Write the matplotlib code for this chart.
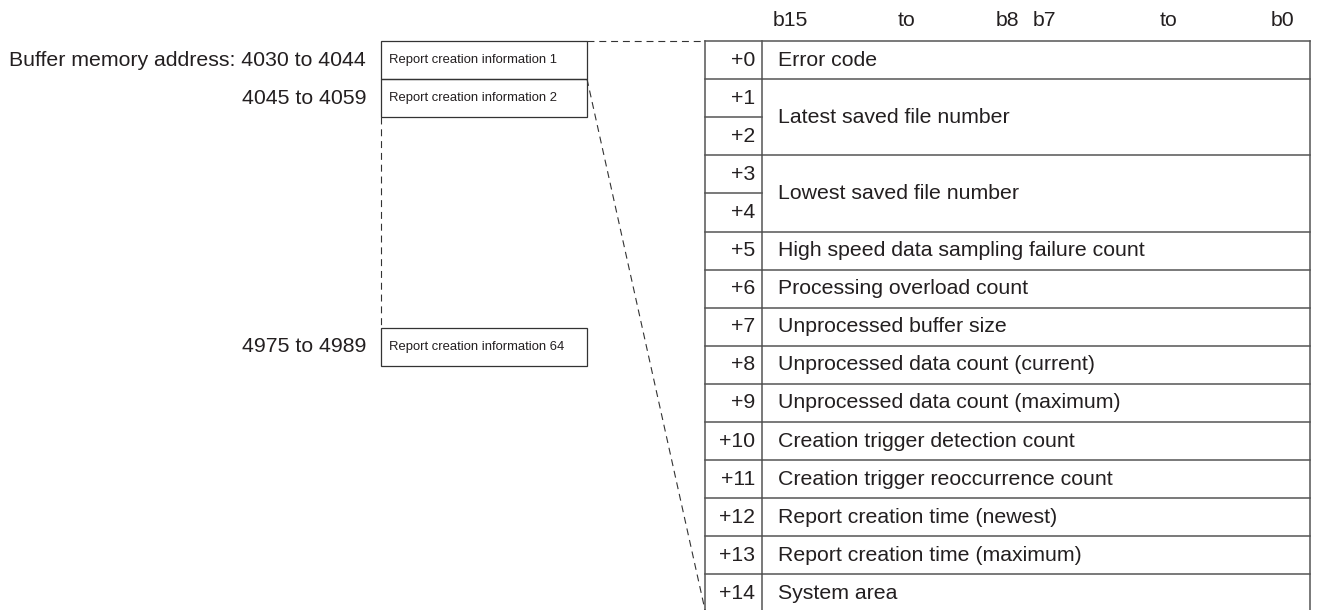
import matplotlib.pyplot as plt

# data
offsets = ['+0', '+1', '+2', '+3', '+4', '+5', '+6', '+7', '+8', '+9',
           '+10', '+11', '+12', '+13', '+14']
items = ['Error code', 'Latest saved file number', 'Lowest saved file number',
         'High speed data sampling failure count', 'Processing overload count',
         'Unprocessed buffer size', 'Unprocessed data count (current)',
         'Unprocessed data count (maximum)', 'Creation trigger detection count',
         'Creation trigger reoccurrence count', 'Report creation time (newest)',
         'Report creation time (maximum)', 'System area']
item_rows = [1, 2, 2, 1, 1, 1, 1, 1, 1, 1, 1, 1, 1]   # how many offset rows each item uses
bit_labels = ['b15', 'to', 'b8', 'b7', 'to', 'b0']
address_labels = ['Buffer memory address: 4030 to 4044', '4045 to 4059', '4975 to 4989']
box_labels = ['Report creation information 1', 'Report creation information 2',
              'Report creation information 64']

# layout (pixels)
W, H = 1318, 610
tab_left, tab_div, tab_right = 705, 762, 1310
tab_top, row_h = 41, 38.1
bit_x = [790, 906, 1007, 1045, 1168, 1282]
box_left, box_right = 381, 587
box_tops = [41, 79, 328]
box_h = 38

txt = '#231f20'
tab_col = '#555555'
fs = 15.3
box_fs = 9.4

plt.rcParams['font.family'] = ['Liberation Sans', 'DejaVu Sans']
plt.rcParams['lines.scale_dashes'] = False

fig = plt.figure(figsize=(W / 100, H / 100), dpi=100)
ax = fig.add_axes([0, 0, 1, 1])
ax.set_xlim(0, W)
ax.set_ylim(H, 0)
ax.axis('off')

# bit header
for x, lab in zip(bit_x, bit_labels):
    ax.text(x, 20, lab, ha='center', va='center', fontsize=fs, color=txt)

# table frame
n = len(offsets)
bottom = tab_top + n * row_h
ax.plot([tab_left, tab_right], [tab_top, tab_top], color=tab_col, lw=1.1)
for x in (tab_left, tab_div, tab_right):
    ax.plot([x, x], [tab_top, bottom], color=tab_col, lw=1.1)

for i, off in enumerate(offsets):
    yc = tab_top + (i + 0.5) * row_h
    ax.text(755, yc, off, ha='right', va='center', fontsize=fs, color=txt)
    if i > 0:
        y = tab_top + i * row_h
        ax.plot([tab_left, tab_div], [y, y], color=tab_col, lw=1.1)

r = 0
for item, span in zip(items, item_rows):
    yc = tab_top + (r + span / 2) * row_h
    ax.text(778, yc, item, ha='left', va='center', fontsize=fs, color=txt)
    r += span
    y = tab_top + r * row_h
    ax.plot([tab_div, tab_right], [y, y], color=tab_col, lw=1.1)

# left side boxes
for top, lab, addr in zip(box_tops, box_labels, address_labels):
    ax.add_patch(plt.Rectangle((box_left, top), box_right - box_left, box_h,
                               fill=False, ec='#333333', lw=0.9))
    ax.text(box_left + 8, top + box_h / 2, lab, ha='left', va='center',
            fontsize=box_fs, color=txt)
    ax.text(366, top + box_h / 2, addr, ha='right', va='center',
            fontsize=fs, color=txt)

# dashed connectors
dash = dict(color='#333333', lw=0.8, dashes=(5, 3.5))
ax.plot([box_right, tab_left], [box_tops[0], tab_top], **dash)
ax.plot([box_left, box_left], [box_tops[1] + box_h, box_tops[2]], **dash)
ax.plot([box_right, tab_left], [box_tops[1], H], **dash)

fig.savefig('out.png', dpi=100)
